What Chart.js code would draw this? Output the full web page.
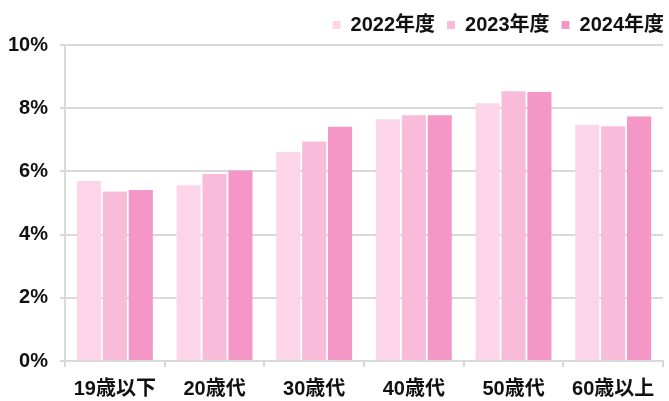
<!DOCTYPE html>
<html><head><meta charset="utf-8">
<script src="https://cdn.jsdelivr.net/npm/chart.js@4"></script>
<style>html,body{margin:0;padding:0;background:#fff}#wrap{width:669px;height:401px}</style>
</head><body><div id="wrap"><canvas id="c"></canvas></div>
<script>
const categories = ['19歳以下','20歳代','30歳代','40歳代','50歳代','60歳以上'];
const seriesNames = ['2022年度','2023年度','2024年度'];
const v2022 = [5.70, 5.56, 6.61, 7.65, 8.16, 7.48];
const v2023 = [5.36, 5.92, 6.95, 7.78, 8.54, 7.43];
const v2024 = [5.41, 6.03, 7.41, 7.78, 8.51, 7.74];
const yTicks = [0, 2, 4, 6, 8, 10];
const colors = ['#FCD6E8', '#F8BBD9', '#F497C6'];
const font = "'Liberation Sans', 'Noto Sans CJK JP', sans-serif";
const shiftLegend = {
  id: 'shiftLegend',
  afterLayout(chart) {
    const lg = chart.legend; if (!lg) return;
    lg.left += 13; lg.right += 13;
    (lg.legendHitBoxes || []).forEach(h => { h.left += 13; });
  }
};
new Chart(document.getElementById('c'), {
  type: 'bar',
  data: {
    labels: categories,
    datasets: [v2022, v2023, v2024].map((d, i) => ({
      label: seriesNames[i], data: d, backgroundColor: colors[i],
      borderColor: '#ffffff', borderWidth: 0,
      categoryPercentage: 0.78, barPercentage: 0.93
    }))
  },
  plugins: [shiftLegend],
  options: {
    responsive: true, maintainAspectRatio: false, animation: false,
    layout: { padding: { left: -4, right: 6, top: 3, bottom: -10 } },
    plugins: {
      legend: {
        position: 'top', align: 'end',
        labels: { boxWidth: 8, boxHeight: 8, padding: 12, color: '#111',
          font: { family: font, size: 20, weight: 'bold' } }
      },
      tooltip: { enabled: false }
    },
    scales: {
      y: {
        min: 0, max: 10,
        afterBuildTicks: ax => { ax.ticks = yTicks.map(v => ({ value: v })); },
        ticks: { callback: v => v + '%', color: '#111', padding: 12,
          font: { family: font, size: 20, weight: 'bold' } },
        grid: { color: '#d9d9d9', lineWidth: 2, tickLength: 5 },
        border: { color: '#d9d9d9', width: 2 }
      },
      x: {
        ticks: { color: '#111', padding: 10,
          font: { family: font, size: 20, weight: 'bold' } },
        grid: { offset: true, drawOnChartArea: false, color: '#d9d9d9', lineWidth: 2, tickLength: 6 },
        border: { color: '#d9d9d9', width: 2 }
      }
    }
  }
});
</script></body></html>
